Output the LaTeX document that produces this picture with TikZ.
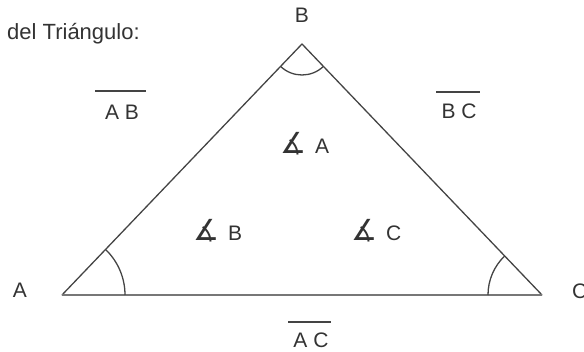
\documentclass[tikz,border=0pt]{standalone}
\usepackage{fontspec}
\usetikzlibrary{calc}
\setmainfont{Liberation Sans}
\newfontfamily\symfont{DejaVu Sans}
\definecolor{ink}{HTML}{333333}
\definecolor{edge}{HTML}{444444}
\definecolor{baseedge}{HTML}{777777}
\newcommand{\angsym}{{\symfont\fontsize{29}{30}\selectfont ∡}}
\begin{document}
\begin{tikzpicture}[x=1pt,y=1pt,
  lbl/.style={inner sep=0pt,text=ink,font=\fontsize{21}{24}\selectfont},
  side/.style={draw=edge,line width=1.3pt},
  arcline/.style={draw=edge,line width=1.3pt},
  bar/.style={draw=edge,line width=1.2pt}]
\useasboundingbox (0,0) rectangle (584,352);
\coordinate (A) at (62,57);
\coordinate (B) at (302,308);
\coordinate (C) at (542,57);
% sides
\draw[side,line cap=round,line join=round] (A) -- (B) -- (C);
\draw[draw=baseedge,line width=2.6pt] (A) -- (C);
% angle arcs
\draw[arcline] ($(A)+(63,0)$) arc[start angle=0,end angle=46.3,radius=63];
\draw[arcline] ($(C)+(-54,0)$) arc[start angle=180,end angle=133.7,radius=54];
\draw[arcline] (B) ++(226.3:31) arc[start angle=226.3,end angle=313.7,radius=31];
% vertex labels
\node[lbl] (lA) at (20,62) {A};
\node[lbl,anchor=west] (lC) at (572,61) {C};
\node[lbl] (lB) at (302,337) {B};
\node[lbl,font=\fontsize{22}{24}\selectfont,anchor=base west] (title) at (7,312) {del Triángulo:};
% side labels
\node[lbl] (sAB) at (122,240) {A B};
\draw[bar] (95,261) -- (146,261);
\node[lbl] (sBC) at (459,241) {B C};
\draw[bar] (436,260) -- (480,260);
\node[lbl] (sAC) at (311,12) {A C};
\draw[bar] (288,30) -- (331,30);
% angle labels
\node[lbl,anchor=base west] (aA) at (280,198) {\angsym\hspace{9pt}A};
\node[lbl,anchor=base west] (aB) at (193,111) {\angsym\hspace{9pt}B};
\node[lbl,anchor=base west] (aC) at (351,111) {\angsym\hspace{9pt}C};
\end{tikzpicture}
\end{document}
